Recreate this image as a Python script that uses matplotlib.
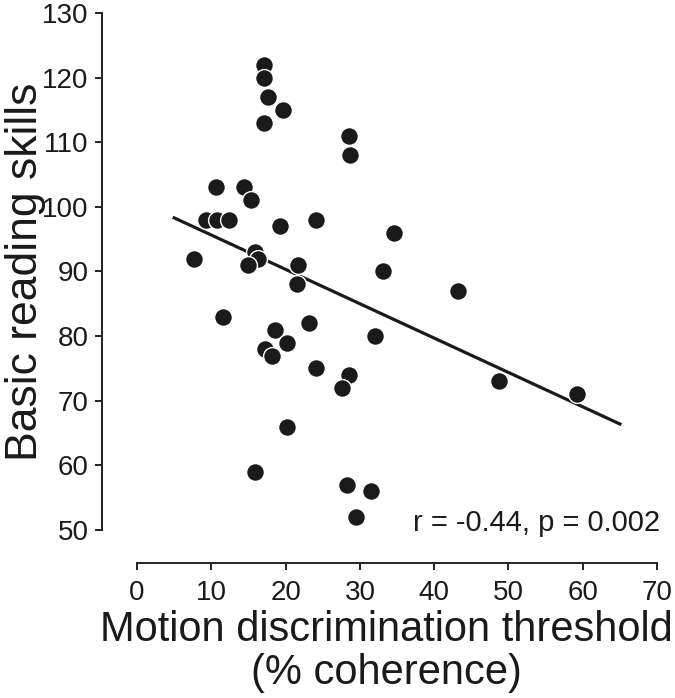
import numpy as np
import matplotlib
matplotlib.use('Agg')
import matplotlib.pyplot as plt

plt.rcParams['font.family'] = ['Liberation Sans', 'DejaVu Sans']

# motion threshold (% coherence) vs basic reading score
threshold = [17.1, 17.1, 17.6, 19.6, 17.1, 28.5, 28.7,
             10.6, 14.4, 15.3, 9.3, 10.7, 12.4, 19.2, 24.1, 34.6,
             15.9, 16.3, 14.9, 21.7, 21.5, 7.7, 33.1, 43.2,
             11.6, 18.6, 23.2, 20.2, 17.2, 18.2, 32.0,
             24.1, 28.5, 27.6, 48.7, 59.2,
             20.2, 15.9, 28.3, 31.5, 29.5]
reading = [122, 120, 117, 115, 113, 111, 108,
           103, 103, 101, 98, 98, 98, 97, 98, 96,
           93, 92, 91, 91, 88, 92, 90, 87,
           83, 81, 82, 79, 78, 77, 80,
           75, 74, 72, 73, 71,
           66, 59, 57, 56, 52]

# regression line as drawn in the figure
line_x = [5, 65]
line_y = [98.3, 66.4]

fig = plt.figure(figsize=(6.75, 6.98), dpi=100)
ax = fig.add_axes([0.2030, 0.2407, 0.7704, 0.7407])

ax.plot(line_x, line_y, color='#1a1a1a', lw=2.3, zorder=2)
ax.scatter(threshold, reading, s=165, c='#1a1a1a', edgecolors='white',
           linewidths=1.0, zorder=3, clip_on=False)

ax.set_xlim(0, 70)
ax.set_ylim(50, 130)
ax.set_xticks(range(0, 71, 10))
ax.set_yticks(range(50, 131, 10))

for s in ['top', 'right']:
    ax.spines[s].set_visible(False)
ax.spines['left'].set_position(('outward', 25))
ax.spines['bottom'].set_position(('outward', 24))
for s in ['left', 'bottom']:
    ax.spines[s].set_linewidth(1.4)
    ax.spines[s].set_color('#222222')
ax.tick_params(width=1.4, length=5, labelsize=20, color='#222222',
               labelcolor='#1a1a1a')
ax.tick_params(axis='x', pad=7)
ax.tick_params(axis='y', pad=5)

ax.set_ylabel('Basic reading skills', fontsize=32, color='#1a1a1a')
ax.yaxis.set_label_coords(-0.176, 0.5)
ax.set_xlabel('Motion discrimination threshold\n(% coherence)', fontsize=30,
              color='#1a1a1a', linespacing=1.08)
ax.xaxis.set_label_coords(0.479, -0.155)

ax.text(1.006, 0.0135, 'r = -0.44, p = 0.002', transform=ax.transAxes,
        ha='right', va='center', fontsize=21, color='#1a1a1a')

fig.savefig('out.png', dpi=100)
